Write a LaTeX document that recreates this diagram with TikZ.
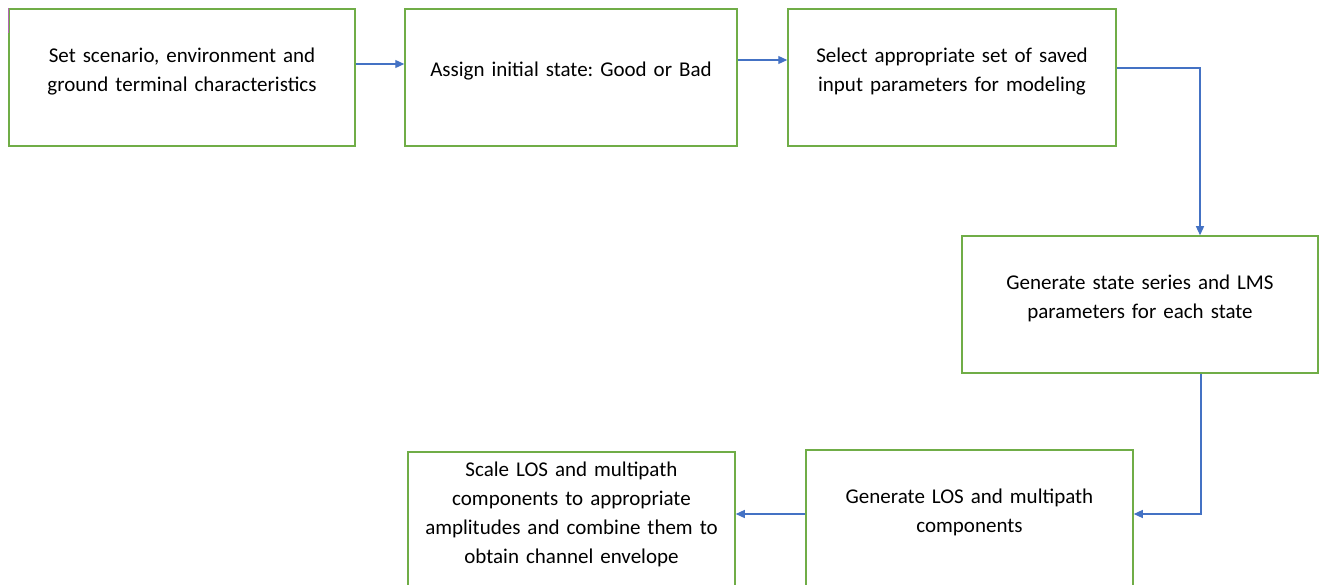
\documentclass[tikz,border=0pt]{standalone}
\usepackage{fontspec}
\setmainfont{Carlito}
\usetikzlibrary{arrows.meta,positioning,calc}

\definecolor{boxgreen}{RGB}{112,173,71}
\definecolor{flowblue}{RGB}{68,114,196}

\begin{document}
\frenchspacing
\begin{tikzpicture}[
    x=1pt, y=-1pt,
    stagebox/.style={draw=boxgreen, line width=1.5pt, minimum height=137pt,
                     text width=315pt, align=center, inner sep=4pt,
                     font=\fontsize{21}{29}\selectfont,
                     execute at end node={\endgraf\vspace*{12pt}}},
    flow/.style={draw=flowblue, line width=1.2pt, -{Triangle[length=9pt,width=8pt]}}
]
\clip (0,0) rectangle (1319,585);

% top row
\node[stagebox, minimum width=346pt] (setup) at (182,77.5) {
    Set scenario, environment and\\ground terminal characteristics};
\node[stagebox, minimum width=332pt] (init) at (571,77.5) {
    Assign initial state: Good or Bad};
\node[stagebox, minimum width=328pt] (params) at (952,77.5) {
    Select appropriate set of saved\\input parameters for modeling};
% right side and bottom row
\node[stagebox, minimum width=356pt] (series) at (1140,304.5) {
    Generate state series and LMS\\parameters for each state};
\node[stagebox, minimum width=327pt] (comps) at (969.5,518.5) {
    Generate LOS and multipath\\components};
\node[stagebox, minimum width=327pt] (envelope) at (571.5,520.5) {
    Scale LOS and multipath\\components to appropriate\\amplitudes and combine them to\\obtain channel envelope};

\draw[violet!60, line width=1.2pt] (setup.north west) -- ++(0,25);

\draw[flow] ([yshift=13.5pt]setup.east) -- ([yshift=13.5pt]init.west);
\draw[flow] ([yshift=17.5pt]init.east) -- ([yshift=17.5pt]params.west);
\draw[flow] ([yshift=9.5pt]params.east) -| ([xshift=60pt]series.north);
\draw[flow] ([xshift=61pt]series.south) |- ([yshift=4.5pt]comps.east);
\draw[flow] ([yshift=4.5pt]comps.west) -- ([yshift=6.5pt]envelope.east);
\end{tikzpicture}
\end{document}
